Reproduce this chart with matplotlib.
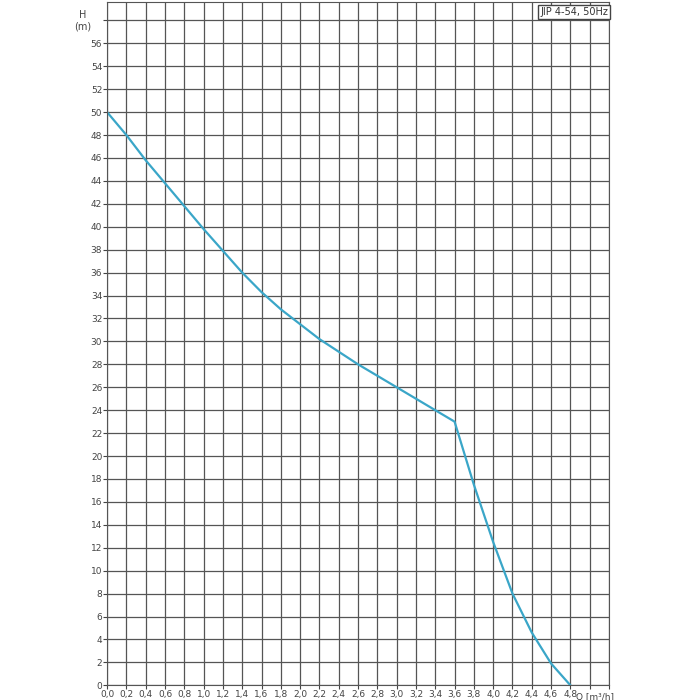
import numpy as np
import matplotlib
matplotlib.use('Agg')
import matplotlib.pyplot as plt

q = [0, 0.2, 0.4, 0.6, 0.8, 1.0, 1.2, 1.4, 1.6, 1.8, 2.0, 2.2, 2.4, 2.6, 2.8,
     3.0, 3.2, 3.4, 3.6, 3.8, 4.0, 4.2, 4.4, 4.6, 4.8]
h = [50, 48, 45.8, 43.8, 41.8, 39.8, 37.9, 36, 34.3, 32.8, 31.5, 30.2, 29.1,
     28, 27, 26, 25, 24, 23, 17.5, 12.5, 8, 4.6, 1.9, 0]
xt = np.round(np.arange(0, 5.21, 0.2), 1)
yt = np.arange(0, 59, 2)

fig = plt.figure(figsize=(7, 7), dpi=100)
ax = fig.add_axes([0.153, 0.021, 0.717, 0.976])
ax.plot(q, h, color='#3aa6c8', lw=1.6)
ax.set_xlim(0, 5.2)
ax.set_ylim(0, 59.6)
ax.set_xticks(xt)
ax.set_xticklabels([f'{t:.1f}'.replace('.', ',') if t <= 4.8 else '' for t in xt])
ax.set_yticks(yt)
ax.set_yticklabels([str(t) if t <= 56 else '' for t in yt])
ax.tick_params(labelsize=6.5, length=3, colors='#444444', pad=0.5)
ax.grid(True, color='#555555', lw=0.9)
for s in ax.spines.values():
    s.set_color('#555555')
ax.text(5.05, -0.7, 'Q [m³/h]', fontsize=6.5, ha='center', va='top', color='#444444')
ax.text(-0.25, 58, 'H\n(m)', fontsize=7, ha='center', va='center', color='#444444')
ax.text(5.19, 59.2, 'JIP 4-54, 50Hz', fontsize=7, ha='right', va='top', color='#333333',
        bbox=dict(facecolor='white', edgecolor='#444444', pad=1.5))
fig.savefig('out.png')
